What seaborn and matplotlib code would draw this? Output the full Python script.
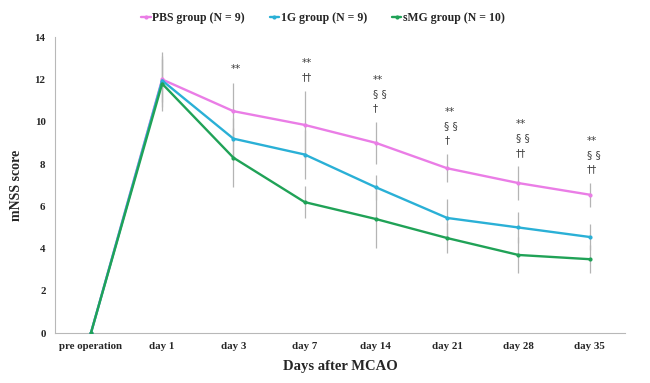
import pandas as pd
import numpy as np
import matplotlib.pyplot as plt
import seaborn as sns

days = ['pre operation', 'day 1', 'day 3', 'day 7', 'day 14', 'day 21', 'day 28', 'day 35']
groups = ['PBS group (N = 9)', '1G group (N = 9)', 'sMG group (N = 10)']

pbs_mean = [0, 12.0, 10.5, 9.85, 9.0, 7.8, 7.1, 6.55]
pbs_sd = [0, 1.3, 1.35, 1.6, 1.0, 0.67, 0.8, 0.56]
g1_mean = [0, 11.95, 9.2, 8.45, 6.9, 5.45, 5.0, 4.55]
g1_sd = [0, 1.0, 1.0, 1.15, 0.6, 0.9, 0.74, 0.6]
smg_mean = [0, 11.8, 8.3, 6.2, 5.4, 4.5, 3.7, 3.5]
smg_sd = [0, 1.3, 1.4, 0.75, 1.35, 0.7, 0.85, 0.65]

# significance marks, listed top to bottom
marks = {
    'day 3': ['**'],
    'day 7': ['**', '††'],
    'day 14': ['**', '§ §', '†'],
    'day 21': ['**', '§ §', '†'],
    'day 28': ['**', '§ §', '††'],
    'day 35': ['**', '§ §', '††'],
}

colors = ['#ea7de6', '#2ab0d6', '#20a257']

df = pd.DataFrame({
    'day': days * 3,
    'group': np.repeat(groups, len(days)),
    'score': pbs_mean + g1_mean + smg_mean,
    'sd': pbs_sd + g1_sd + smg_sd,
})

sns.set_style('white')
plt.rcParams['font.family'] = ['Liberation Serif', 'DejaVu Serif']

fig = plt.figure(figsize=(6.5, 3.83), dpi=100)
ax = fig.add_axes([0.085, 0.13, 0.877, 0.773])

# error bars first, gray, underneath
for g in groups:
    sub = df[df.group == g]
    ax.errorbar(sub['day'], sub['score'], yerr=sub['sd'], fmt='none',
                ecolor='#b4b4b4', elinewidth=0.9, capsize=0, zorder=1)

sns.lineplot(data=df, x='day', y='score', hue='group', palette=colors,
             marker='o', markersize=3, markeredgewidth=0, linewidth=1.7,
             sort=False, ax=ax, legend=True, zorder=3)

# annotations above the highest error bar
top = {d: max(m + s for m, s in zip(df[df.day == d].score, df[df.day == d].sd)) for d in days}
for d, lines in marks.items():
    x = days.index(d) - 0.04
    for i, txt in enumerate(reversed(lines)):
        ax.text(x, top[d] + 0.4 + i * 0.68, txt, ha='left', va='bottom',
                fontsize=7.5, color='#404040', family=['DejaVu Sans'])

ax.set_xlim(-0.5, len(days) - 0.5)
ax.set_ylim(0, 14)
ax.set_yticks(range(0, 15, 2))
ax.set_xticks(np.arange(-0.5, len(days), 1.0))
ax.set_xticklabels([])
ax.set_xticks(range(len(days)), minor=True)
ax.set_xticklabels(days, minor=True)
ax.tick_params(axis='x', which='minor', length=0, pad=6)
ax.tick_params(axis='x', which='major', length=3, color='#b0b0b0', direction='out')
ax.tick_params(axis='y', length=3, color='#b0b0b0', direction='out', pad=4)
for lab in ax.get_xticklabels(minor=True) + ax.get_yticklabels():
    lab.set_fontweight('bold')
    lab.set_fontsize(7.8)

for s in ['top', 'right']:
    ax.spines[s].set_visible(False)
for s in ['left', 'bottom']:
    ax.spines[s].set_color('#b8b8b8')
    ax.spines[s].set_linewidth(0.8)

ax.set_xlabel('Days after MCAO', fontsize=10.5, fontweight='bold', labelpad=7)
ax.set_ylabel('mNSS score', fontsize=10, fontweight='bold', labelpad=8)

handles, labels = ax.get_legend_handles_labels()
ax.get_legend().remove()
fig.legend(handles, labels, loc='center', bbox_to_anchor=(0.497, 0.952), ncol=3,
           frameon=False, handlelength=0.8, handletextpad=0.15, columnspacing=2.1,
           prop={'weight': 'bold', 'size': 8.5})

fig.savefig('out.png', dpi=100)
